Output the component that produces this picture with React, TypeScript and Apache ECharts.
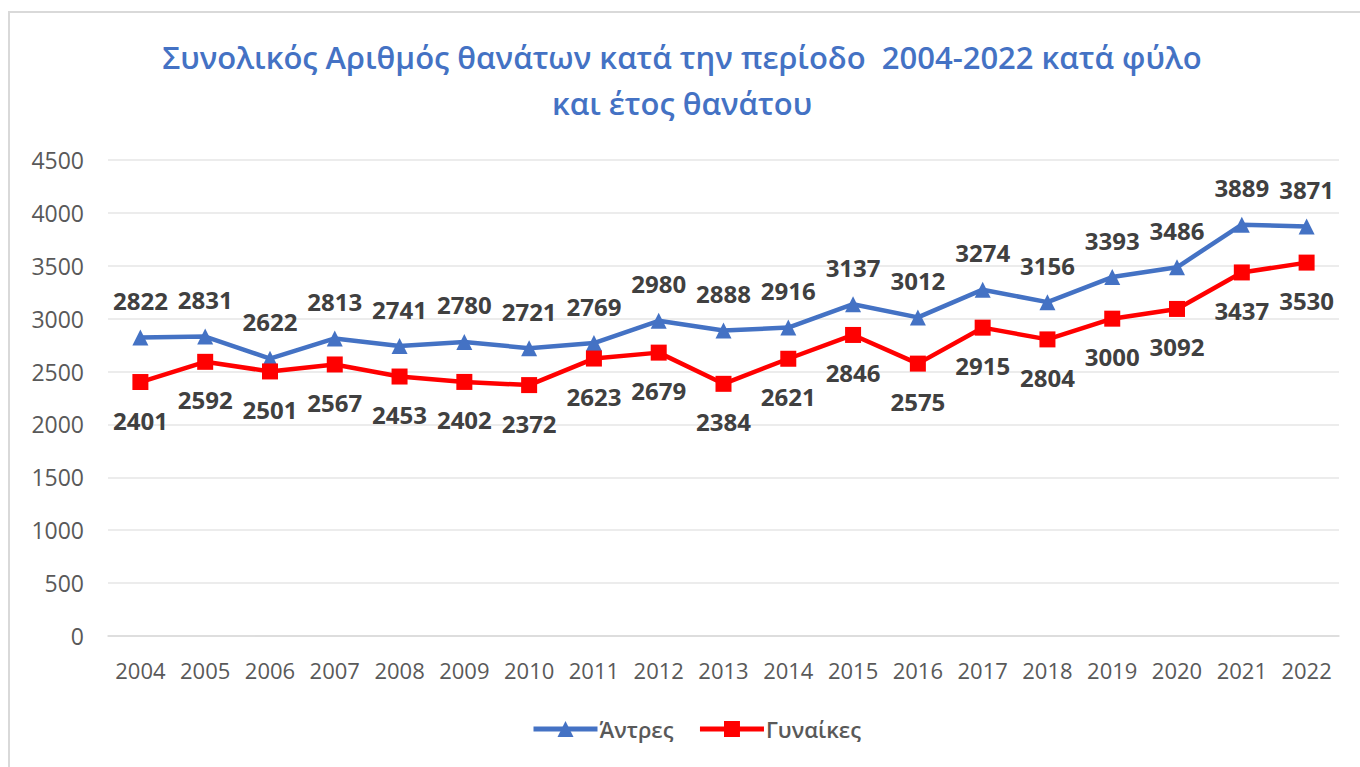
import React, { useEffect, useRef } from "react";
import * as echarts from "echarts";

const years = ["2004","2005","2006","2007","2008","2009","2010","2011","2012","2013","2014","2015","2016","2017","2018","2019","2020","2021","2022"];
const men = [2822,2831,2622,2813,2741,2780,2721,2769,2980,2888,2916,3137,3012,3274,3156,3393,3486,3889,3871];
const women = [2401,2592,2501,2567,2453,2402,2372,2623,2679,2384,2621,2846,2575,2915,2804,3000,3092,3437,3530];
const titleText = "Συνολικός Αριθμός θανάτων κατά την περίοδο  2004-2022 κατά φύλο\nκαι έτος θανάτου";
const seriesNames = ["Άντρες", "Γυναίκες"];

const FONT = "'Open Sans', 'Noto Sans', sans-serif";

export default function App() {
  const ref = useRef<HTMLDivElement>(null);
  useEffect(() => {
    if (!ref.current) return;
    const chart = echarts.init(ref.current, undefined, { renderer: "svg" });
    chart.setOption({
      animation: false,
      backgroundColor: "#ffffff",
      textStyle: { fontFamily: FONT },
      title: {
        text: titleText,
        left: 677,
        textAlign: "center",
        top: 29,
        textStyle: {
          color: "#4472C4",
          fontSize: 31,
          fontWeight: 600,
          fontFamily: FONT,
          lineHeight: 46,
        },
      },
      graphic: [
        {
          type: "rect",
          shape: { x: 9, y: 12, width: 1360, height: 800 },
          style: { fill: "none", stroke: "#d9d9d9", lineWidth: 2 },
          silent: true,
        },
      ],
      legend: {
        bottom: 22,
        left: 526,
        itemWidth: 64,
        itemHeight: 20,
        itemGap: 24,
        lineStyle: { width: 5 },
        textStyle: { color: "#595959", fontSize: 22, fontWeight: 600, fontFamily: FONT, padding: [0, 0, 0, -3] },
        data: seriesNames,
      },
      grid: { left: 108, right: 21, top: 160, bottom: 131 },
      xAxis: {
        type: "category",
        data: years,
        boundaryGap: true,
        axisLine: { show: true, lineStyle: { color: "#d9d9d9", width: 1.5 } },
        axisTick: { show: false },
        axisLabel: { color: "#595959", fontSize: 22, margin: 23, fontFamily: FONT, interval: 0, hideOverlap: false },
      },
      yAxis: {
        type: "value",
        min: 0,
        max: 4500,
        interval: 500,
        axisLine: { show: false },
        axisTick: { show: false },
        axisLabel: {
          color: "#595959",
          fontSize: 23,
          margin: 24,
          fontFamily: FONT,
          formatter: (v: number) => String(v),
        },
        splitLine: { lineStyle: { color: "#e6e6e6", width: 1.5 } },
      },
      series: [
        {
          name: seriesNames[0],
          type: "line",
          data: men,
          symbol: "triangle",
          symbolSize: 16,
          itemStyle: { color: "#4472C4" },
          lineStyle: { color: "#4472C4", width: 4.5 },
          label: {
            show: true,
            position: "top",
            distance: 17,
            color: "#404040",
            fontSize: 24,
            fontWeight: "bold",
            fontFamily: FONT,
          },
        },
        {
          name: seriesNames[1],
          type: "line",
          data: women,
          symbol: "rect",
          symbolSize: 16,
          itemStyle: { color: "#FF0000" },
          lineStyle: { color: "#FF0000", width: 4.5 },
          label: {
            show: true,
            position: "bottom",
            distance: 18,
            color: "#404040",
            fontSize: 24,
            fontWeight: "bold",
            fontFamily: FONT,
          },
        },
      ],
    });
    return () => chart.dispose();
  }, []);
  return (
    <div
      ref={ref}
      style={{ position: "fixed", left: 0, top: 0, width: 1360, height: 767 }}
    />
  );
}
